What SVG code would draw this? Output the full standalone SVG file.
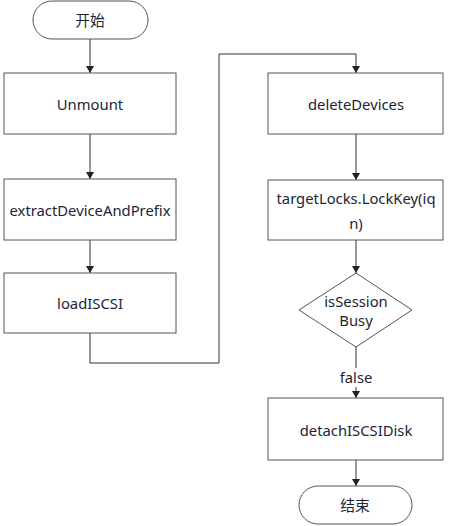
<svg xmlns="http://www.w3.org/2000/svg" width="449" height="526" viewBox="0 0 449 526">
<style>
.n{fill:#fff;stroke:#555;stroke-width:1}
.t{font-family:"Noto Sans","Noto Sans CJK SC",sans-serif;font-size:14.8px;fill:#1c2535;text-anchor:middle;dominant-baseline:central}
.c{fill:none;stroke:#333;stroke-width:1}
</style>
<defs>
<marker id="b" markerWidth="8" markerHeight="8" refX="7" refY="4" orient="auto" markerUnits="userSpaceOnUse" viewBox="0 0 8 8"><path d="M0,0 L7,4 L0,8 Z" fill="#222"/></marker>
</defs>
<rect width="449" height="526" fill="#fff"/>
<g id="connectors">
<path class="c" d="M90,39 V73" marker-end="url(#b)"/>
<path class="c" d="M90,134 V179" marker-end="url(#b)"/>
<path class="c" d="M90,240 V273" marker-end="url(#b)"/>
<path class="c" d="M90,333 V363 H219 V54 H356 V73" marker-end="url(#b)"/>
<path class="c" d="M356,134 V180" marker-end="url(#b)"/>
<path class="c" d="M356,240 V273" marker-end="url(#b)"/>
<path class="c" d="M356,347 V368"/>
<path class="c" d="M356,387 V398" marker-end="url(#b)"/>
<path class="c" d="M356,460 V486" marker-end="url(#b)"/>
<text class="t" x="356" y="377">false</text>
</g>
<g id="start"><rect class="n" x="33" y="1" width="115" height="38" rx="19"/><text class="t" x="90" y="20">开始</text></g>
<g id="unmount"><rect class="n" x="4" y="73" width="172" height="61"/><text class="t" x="90" y="104">Unmount</text></g>
<g id="extract"><rect class="n" x="4" y="179" width="172" height="61"/><text class="t" x="90" y="210">extractDeviceAndPrefix</text></g>
<g id="load"><rect class="n" x="4" y="273" width="172" height="60"/><text class="t" x="90" y="303">loadISCSI</text></g>
<g id="delete"><rect class="n" x="268" y="73" width="175" height="61"/><text class="t" x="356" y="104">deleteDevices</text></g>
<g id="lock"><rect class="n" x="268" y="180" width="175" height="60"/><text class="t" x="356" y="198">targetLocks.LockKey(iq</text><text class="t" x="356" y="223">n)</text></g>
<g id="busy"><path class="n" d="M356,273 L412,310 L356,347 L299,310 Z"/><text class="t" x="356" y="301">isSession</text><text class="t" x="356" y="320">Busy</text></g>
<g id="detach"><rect class="n" x="268" y="398" width="175" height="62"/><text class="t" x="356" y="430">detachISCSIDisk</text></g>
<g id="end"><rect class="n" x="299" y="486" width="113" height="38" rx="19"/><text class="t" x="355" y="505">结束</text></g>
</svg>
